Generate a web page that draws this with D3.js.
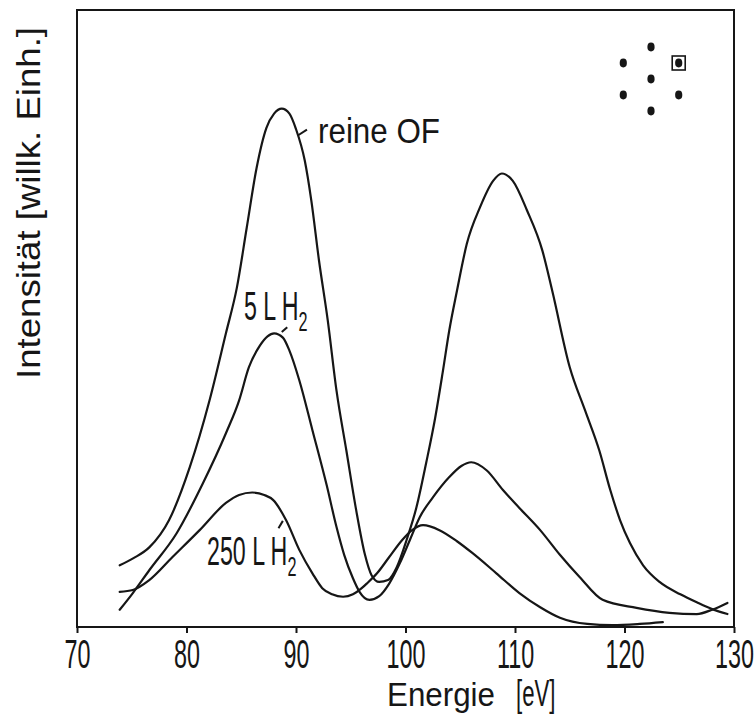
<!DOCTYPE html>
<html>
<head>
<meta charset="utf-8">
<script src="https://cdn.jsdelivr.net/npm/d3@7/dist/d3.min.js"></script>
<style>
  html, body { margin: 0; padding: 0; background: #fff; }
  svg { display: block; }
</style>
</head>
<body>
<svg id="chart" width="756" height="714"></svg>
<script>
// Energy axis ticks (eV)
const energyTicks = [70, 80, 90, 100, 110, 120, 130];

// Series: clean surface ("reine OF")
const reineE = [73.9, 75.2, 76.6, 78.4, 80.3, 82.1, 83.6, 84.6, 85.5, 86.4, 87.3, 88.0, 88.7, 89.4, 90.0, 90.8, 91.4, 92.1, 92.9, 93.7, 94.6, 95.5, 96.3, 96.9, 97.6, 98.4, 99.2, 100.1, 101.0, 101.9, 102.7, 103.4, 104.0, 104.7, 105.6, 106.8, 108.0, 108.8, 109.8, 111.1, 112.5, 113.4, 115.0, 116.4, 117.7, 118.7, 119.6, 120.5, 121.7, 123.2, 125.1, 126.6, 128.0, 129.4];
const reineI = [10.0, 11.2, 12.9, 17.3, 25.9, 36.7, 47.6, 55.0, 64.7, 74.4, 80.9, 83.2, 84.0, 83.2, 80.7, 75.6, 69.1, 59.4, 49.7, 38.3, 28.6, 18.9, 11.7, 8.4, 7.3, 7.6, 9.7, 14.1, 19.4, 26.7, 33.8, 41.3, 48.1, 54.5, 62.1, 68.0, 72.3, 73.5, 72.3, 67.5, 61.0, 54.5, 42.1, 35.1, 28.6, 22.2, 17.3, 13.6, 10.0, 7.3, 5.3, 4.0, 2.9, 2.1];

// Series: after 5 L H2
const h5E = [73.9, 75.1, 76.6, 79.1, 81.5, 83.6, 84.8, 85.7, 86.7, 87.4, 88.0, 88.8, 89.4, 90.3, 91.5, 92.8, 93.7, 94.4, 95.2, 95.8, 96.7, 97.6, 98.5, 99.5, 100.4, 101.3, 102.5, 104.0, 105.1, 106.0, 107.4, 108.9, 110.4, 112.3, 114.1, 115.9, 118.0, 121.1, 124.1, 126.6, 128.0, 129.4];
const h5I = [2.8, 5.5, 9.2, 15.2, 23.3, 31.4, 36.7, 42.1, 45.6, 47.1, 47.6, 46.9, 44.8, 40.0, 31.9, 23.0, 16.2, 11.7, 7.9, 5.7, 4.4, 5.0, 7.0, 10.4, 14.1, 17.8, 21.0, 24.3, 26.1, 26.7, 25.4, 22.2, 19.3, 15.7, 11.7, 8.1, 4.4, 3.1, 2.3, 2.1, 2.8, 3.9];

// Series: after 250 L H2
const h250E = [73.9, 75.1, 76.6, 78.7, 81.2, 83.6, 84.8, 86.0, 87.1, 87.9, 89.1, 90.3, 91.5, 92.4, 93.3, 94.3, 95.2, 96.0, 96.5, 97.4, 98.5, 99.7, 100.6, 101.6, 103.1, 104.7, 106.1, 108.3, 110.4, 112.3, 114.1, 116.6, 118.9, 121.4, 123.5];
const h250I = [5.7, 6.0, 7.6, 11.3, 15.7, 20.1, 21.4, 21.8, 21.4, 20.6, 17.3, 12.5, 8.7, 6.3, 5.3, 4.9, 5.3, 6.3, 7.1, 8.7, 11.3, 14.1, 15.7, 16.5, 15.7, 13.9, 12.0, 8.7, 5.5, 3.2, 1.5, 0.5, 0.3, 0.5, 0.8];

const svg = d3.select("#chart");
const ink = "#161616";

const x = d3.scaleLinear().domain([70, 130]).range([77, 734]);
const y = d3.scaleLinear().domain([0, 100]).range([627, 10]);

// Plot frame
svg.append("rect")
  .attr("x", x(70)).attr("y", y(100))
  .attr("width", x(130) - x(70)).attr("height", y(0) - y(100))
  .attr("fill", "none").attr("stroke", ink).attr("stroke-width", 2);

// Bottom axis with condensed tick numbers
const xAxis = d3.axisBottom(x).tickValues(energyTicks).tickSize(6).tickFormat(d3.format("d"));
const gx = svg.append("g").attr("transform", `translate(0,${y(0)})`).call(xAxis);
gx.select(".domain").remove();
gx.selectAll(".tick line").attr("stroke", ink).attr("stroke-width", 2);
gx.selectAll(".tick text").each(function() {
  const t = d3.select(this);
  t.attr("y", null).attr("dy", null)
    .attr("transform", "translate(0,41) scale(0.57,1)")
    .attr("font-family", "'Liberation Sans', Arial, sans-serif")
    .attr("font-size", 41)
    .attr("fill", ink)
    .attr("text-anchor", "middle");
});

// Axis titles
svg.append("text")
  .attr("x", 387).attr("y", 706)
  .attr("font-family", "'Liberation Sans', Arial, sans-serif")
  .attr("font-size", 33)
  .attr("textLength", 108).attr("lengthAdjust", "spacingAndGlyphs")
  .attr("fill", ink)
  .text("Energie");
svg.append("text")
  .attr("transform", "translate(516,706) scale(0.6,1)")
  .attr("font-family", "'Liberation Sans', Arial, sans-serif")
  .attr("font-size", 37)
  .attr("fill", ink)
  .text("[eV]");

svg.append("text")
  .attr("transform", "translate(40,203) rotate(-90)")
  .attr("text-anchor", "middle")
  .attr("font-family", "'Liberation Sans', Arial, sans-serif")
  .attr("font-size", 34)
  .attr("textLength", 352).attr("lengthAdjust", "spacingAndGlyphs")
  .attr("fill", ink)
  .text("Intensität [willk. Einh.]");

// Spectra
const line = d3.line()
  .x(d => x(d[0])).y(d => y(d[1]))
  .curve(d3.curveMonotoneX);

const series = [
  { name: "reine OF", e: reineE, i: reineI },
  { name: "5 L H2", e: h5E, i: h5I },
  { name: "250 L H2", e: h250E, i: h250I }
];

svg.append("g").selectAll("path")
  .data(series)
  .join("path")
  .attr("d", s => line(d3.zip(s.e, s.i)))
  .attr("fill", "none")
  .attr("stroke", ink)
  .attr("stroke-width", 2.2)
  .attr("stroke-linejoin", "round")
  .attr("stroke-linecap", "round");

// Curve labels with short leader strokes (data coordinates)
const leaders = [
  [[90.2, 79.7], [91.0, 80.6]],
  [[88.7, 47.8], [89.2, 48.6]],
  [[88.4, 16.0], [88.8, 17.2]]
];
svg.append("g").selectAll("line")
  .data(leaders)
  .join("line")
  .attr("x1", d => x(d[0][0])).attr("y1", d => y(d[0][1]))
  .attr("x2", d => x(d[1][0])).attr("y2", d => y(d[1][1]))
  .attr("stroke", ink).attr("stroke-width", 2);

svg.append("text")
  .attr("x", 318).attr("y", 143)
  .attr("font-family", "'Liberation Sans', Arial, sans-serif")
  .attr("font-size", 35)
  .attr("textLength", 122).attr("lengthAdjust", "spacingAndGlyphs")
  .attr("fill", ink)
  .text("reine OF");

function condensedLabel(tx, ty, main) {
  const t = svg.append("text")
    .attr("transform", `translate(${tx},${ty}) scale(0.58,1)`)
    .attr("font-family", "'Liberation Sans', Arial, sans-serif")
    .attr("font-size", 40)
    .attr("fill", ink);
  t.append("tspan").text(main);
  t.append("tspan").attr("font-size", 28).attr("dy", 11).text("2");
}
condensedLabel(244, 320, "5 L H");
condensedLabel(207, 565, "250 L H");

// Surface structure sketch: hexagon of atoms with centre, one marked site
const cx = 651, cy = 79, r = 32;
const sites = d3.range(6).map(k => {
  const a = Math.PI / 2 - k * Math.PI / 3;
  return [cx + r * Math.cos(a), cy - r * Math.sin(a)];
});
sites.push([cx, cy]);
svg.append("g").selectAll("ellipse")
  .data(sites)
  .join("ellipse")
  .attr("cx", d => d[0]).attr("cy", d => d[1])
  .attr("rx", 3.6).attr("ry", 4.4)
  .attr("fill", ink);
const marked = sites[1];
svg.append("rect")
  .attr("x", marked[0] - 6.5).attr("y", marked[1] - 7)
  .attr("width", 13).attr("height", 14)
  .attr("fill", "none").attr("stroke", ink).attr("stroke-width", 1.6);
</script>
</body>
</html>
